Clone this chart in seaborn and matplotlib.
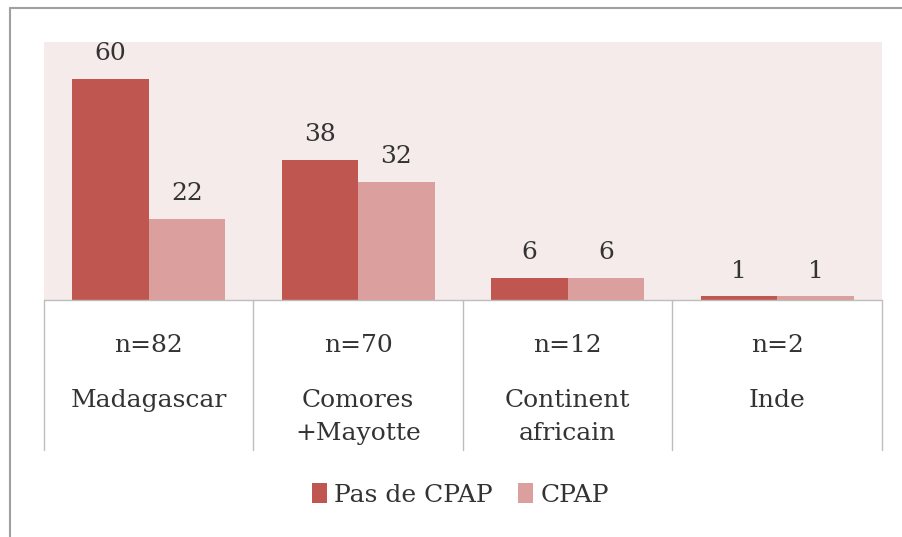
import matplotlib
matplotlib.use("Agg")
import matplotlib.pyplot as plt
import seaborn as sns
import pandas as pd
from matplotlib.lines import Line2D
from matplotlib.patches import Patch

# data
regions = ["Madagascar", "Comores\n+Mayotte", "Continent\nafricain", "Inde"]
n_labels = ["n=82", "n=70", "n=12", "n=2"]
pas_cpap = [60, 38, 6, 1]
cpap = [22, 32, 6, 1]
series = ["Pas de CPAP", "CPAP"]

df = pd.DataFrame({
    "region": regions * 2,
    "groupe": [series[0]] * 4 + [series[1]] * 4,
    "valeur": pas_cpap + cpap,
})

sns.set_theme(style="white")
plt.rcParams["font.family"] = ["DejaVu Serif", "DejaVu Sans"]

dark = "#BF5650"
light = "#DBA09E"
grid_col = "#BDBDBD"
txt_col = "#333333"
fs = 18

fig = plt.figure(figsize=(9.03, 5.37), dpi=100)
ax = fig.add_axes([0.0487, 0.441, 0.928, 0.481])
ax.set_facecolor("#F6EBEB")

sns.barplot(data=df, x="region", y="valeur", hue="groupe", order=regions,
            hue_order=series, palette=[dark, light], width=0.73, gap=0,
            saturation=1, linewidth=0, ax=ax, legend=False)

for cont in ax.containers:
    ax.bar_label(cont, padding=10, fontsize=fs, color=txt_col)

ax.set_ylim(0, 70)
ax.set_xlim(-0.5, 3.5)
ax.set_yticks([])
ax.set_xticks([])
ax.set_xlabel("")
ax.set_ylabel("")
for s in ax.spines.values():
    s.set_visible(False)

# table-like category area under the bars
tr = ax.get_xaxis_transform()
ax.plot([-0.5, 3.5], [0, 0], color=grid_col, lw=1, transform=tr, clip_on=False)
for xb in [-0.5, 0.5, 1.5, 2.5, 3.5]:
    ax.plot([xb, xb], [0, -0.58], color=grid_col, lw=1, transform=tr, clip_on=False)
for i, (nl, reg) in enumerate(zip(n_labels, regions)):
    ax.text(i, -0.175, nl, transform=tr, ha="center", va="center",
            fontsize=fs, color=txt_col)
    ax.text(i, -0.345, reg, transform=tr, ha="center", va="top",
            fontsize=fs, color=txt_col, linespacing=1.55)

handles = [Patch(facecolor=dark, edgecolor="none"),
           Patch(facecolor=light, edgecolor="none")]
fig.legend(handles, series, loc="center", bbox_to_anchor=(0.51, 0.078),
           ncol=2, frameon=False, fontsize=fs, handlelength=0.6,
           handleheight=0.8, handletextpad=0.3, columnspacing=1.0,
           labelcolor=txt_col)

# outer frame
fig.add_artist(Line2D([0.011, 1.0], [0.985, 0.985], color="#A0A0A0", lw=1.5))
fig.add_artist(Line2D([0.011, 0.011], [0.0, 0.985], color="#A0A0A0", lw=1.5))

fig.savefig("out.png", dpi=100)
